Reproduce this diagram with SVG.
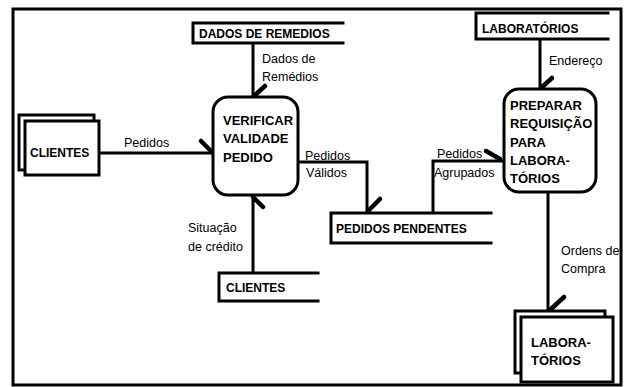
<svg xmlns="http://www.w3.org/2000/svg" width="627" height="387" viewBox="0 0 627 387">
<style>
.ln{fill:none;stroke:#000;stroke-width:3;stroke-linecap:square}
.bx{fill:#fff;stroke:#000;stroke-width:3}
.tk{stroke:#000;stroke-width:4.5;stroke-linecap:round}
.b{font-family:"Liberation Sans",Arial,sans-serif;font-weight:bold;font-size:12px;fill:#000}
.p{font-family:"Liberation Sans",Arial,sans-serif;font-weight:bold;font-size:13px;fill:#000}
.l{font-family:"Liberation Sans",Arial,sans-serif;font-size:12.5px;fill:#000}
</style>
<rect x="0" y="0" width="627" height="387" fill="#fff"/>
<rect x="13" y="9" width="608" height="376" fill="none" stroke="#000" stroke-width="3"/>
<g id="connectors">
<path class="ln" d="M253 44V97"/><line class="tk" x1="265" y1="86" x2="254" y2="96"/>
<path class="ln" d="M99 153H212"/><line class="tk" x1="201" y1="141" x2="212" y2="152"/>
<path class="ln" d="M298 162H367V211"/><line class="tk" x1="380" y1="199" x2="368" y2="211"/>
<path class="ln" d="M433 212V161H503"/><line class="tk" x1="486" y1="151" x2="500" y2="159"/>
<path class="ln" d="M253 272V197"/><line class="tk" x1="263" y1="207" x2="253" y2="197"/>
<path class="ln" d="M540 40V88"/><line class="tk" x1="552" y1="78" x2="541" y2="88"/>
<path class="ln" d="M548 193V311"/><line class="tk" x1="564" y1="297" x2="550" y2="310"/>
</g>
<g class="l">
<text x="262" y="63">Dados de</text>
<text x="262" y="81">Remédios</text>
<text x="124" y="147">Pedidos</text>
<text x="305" y="160">Pedidos</text>
<text x="306" y="177">Válidos</text>
<text x="437" y="158">Pedidos</text>
<text x="434" y="177">Agrupados</text>
<text x="188" y="232">Situação</text>
<text x="188" y="251">de crédito</text>
<text x="549" y="65">Endereço</text>
<text x="561" y="255">Ordens de</text>
<text x="561" y="273">Compra</text>
</g>
<g id="store-dados-remedios">
<path class="ln" d="M343 23H193V43H343"/>
<text class="b" x="199" y="38">DADOS DE REMEDIOS</text>
</g>
<g id="entity-clientes">
<rect class="bx" x="19" y="115" width="75" height="55"/>
<rect class="bx" x="25" y="121" width="74" height="54"/>
<text class="b" x="30" y="157">CLIENTES</text>
</g>
<g id="proc-verificar">
<rect class="bx" x="213" y="97" width="85" height="98" rx="15"/>
<text class="p" x="223" y="125">VERIFICAR</text>
<text class="p" x="223" y="143">VALIDADE</text>
<text class="p" x="223" y="162">PEDIDO</text>
</g>
<g id="store-clientes">
<path class="ln" d="M318 273H219V301H318"/>
<text class="b" x="226" y="292">CLIENTES</text>
</g>
<g id="store-pedidos-pendentes">
<path class="ln" d="M491 213H331V243H491"/>
<text class="b" x="336" y="233">PEDIDOS PENDENTES</text>
</g>
<g id="store-laboratorios">
<path class="ln" d="M608 13H476V39H608"/>
<text class="b" x="482" y="33">LABORATÓRIOS</text>
</g>
<g id="proc-preparar">
<rect class="bx" x="504" y="89" width="92" height="103" rx="15"/>
<text class="p" x="510" y="110">PREPARAR</text>
<text class="p" x="510" y="128">REQUISIÇÃO</text>
<text class="p" x="510" y="147">PARA</text>
<text class="p" x="510" y="165">LABORA-</text>
<text class="p" x="510" y="183">TÓRIOS</text>
</g>
<g id="entity-laboratorios">
<rect class="bx" x="515" y="311" width="90" height="62"/>
<rect class="bx" x="521" y="317" width="92" height="65"/>
<text class="p" x="531" y="347">LABORA-</text>
<text class="p" x="531" y="365">TÓRIOS</text>
</g>
</svg>
